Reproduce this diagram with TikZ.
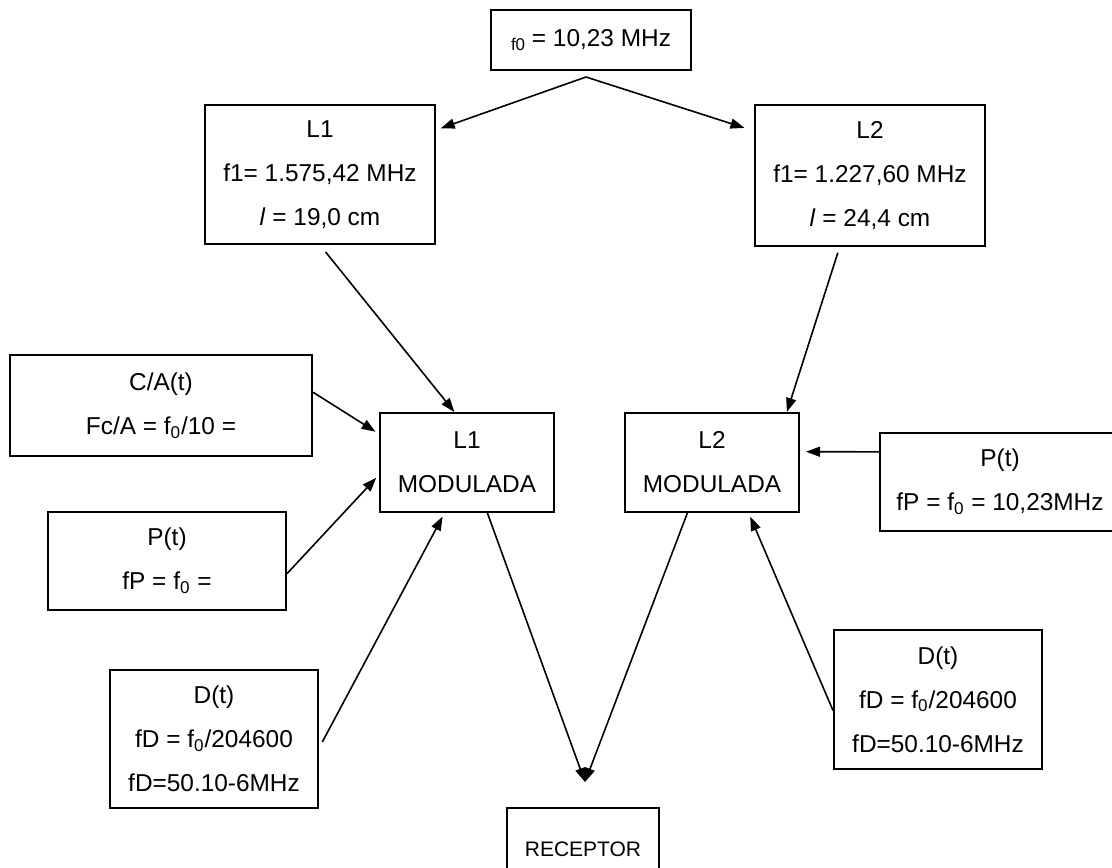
\documentclass[tikz,border=0pt]{standalone}
\usepackage{fontspec}
\setmainfont{Liberation Sans}
\usetikzlibrary{arrows.meta}

\begin{document}
\begin{tikzpicture}[x=.5pt,y=-.5pt,
    box/.style={draw, line width=1pt, inner sep=0pt, align=center, font=\fontsize{12.2}{22}\selectfont},
    link/.style={line width=.8pt, -{Triangle[length=7pt,width=5pt]}}]
                \path[use as bounding box, clip] (0,0) rectangle (1112,867);
                % frequencies
                \node[box, minimum width=100pt, minimum height=30pt] (f0) at (591,40) {\raisebox{-2pt}{\fontsize{8.5}{8.5}\selectfont f0} = 10,23 MHz};
                \node[box, minimum width=115pt, minimum height=69.5pt] (L1) at (320,174.5) {L1\\f1= 1.575,42 MHz\\\textit{l} = 19,0 cm};
                \node[box, minimum width=115pt, minimum height=70.5pt] (L2) at (870,175.5) {L2\\f1= 1.227,60 MHz\\\textit{l} = 24,4 cm};
                % codes
                \node[box, minimum width=151pt, minimum height=50.5pt] (CA) at (161,405.5) {C/A(t)\\Fc/A = f\textsubscript{0}/10 =};
                \node[box, minimum width=119pt, minimum height=49pt] (Pl) at (167,561) {P(t)\\fP = f\textsubscript{0} =};
                \node[box, minimum width=104pt, minimum height=69pt] (Dl) at (214,739) {D(t)\\fD = f\textsubscript{0}/204600\\fD=50.10-6MHz};
                \node[box, minimum width=120pt, minimum height=49pt] (Pr) at (1000,482) {P(t)\\fP = f\textsubscript{0} = 10,23MHz};
                \node[box, minimum width=104pt, minimum height=69.5pt] (Dr) at (938,699.5) {D(t)\\fD = f\textsubscript{0}/204600\\fD=50.10-6MHz};
                % modulated carriers
                \node[box, minimum width=87pt, minimum height=49.5pt] (L1m) at (467,462.5) {L1\\MODULADA};
                \node[box, minimum width=87pt, minimum height=49.5pt] (L2m) at (712,462.5) {L2\\MODULADA};
                \node[box, minimum width=76pt, minimum height=41pt, font=\fontsize{10.5}{12}\selectfont] (rec) at (583,849) {RECEPTOR};
                \coordinate (split) at (586,77);
                \coordinate (join) at (585,782);
                % connectors
                \draw[link, shorten >=2.5pt] (split) -- (L1.21);
                \draw[link, shorten >=5pt] (split) -- (L2.159);
                \draw[link, shorten <=4.5pt] (L1.south) -- (L1m.104);
                \draw[link, shorten <=3pt] (L2.247) -- (L2m.34);
                \draw[link, shorten >=2pt] (CA.5) -- (L1m.162);
                \draw[link, shorten >=2pt] (Pl.-6) -- (L1m.188);
                \draw[link, shorten <=3.5pt, shorten >=2pt] (Dl.-5) -- (L1m.246);
                \draw[link, shorten >=3pt] (Pr.166) -- (L2m.7);
                \draw[link, shorten >=2pt] (Dr.186) -- (L2m.-54);
                \draw[link] (L1m.-68) -- (join);
                \draw[link] (L2m.244) -- (join);
            \end{tikzpicture}
\end{document}
